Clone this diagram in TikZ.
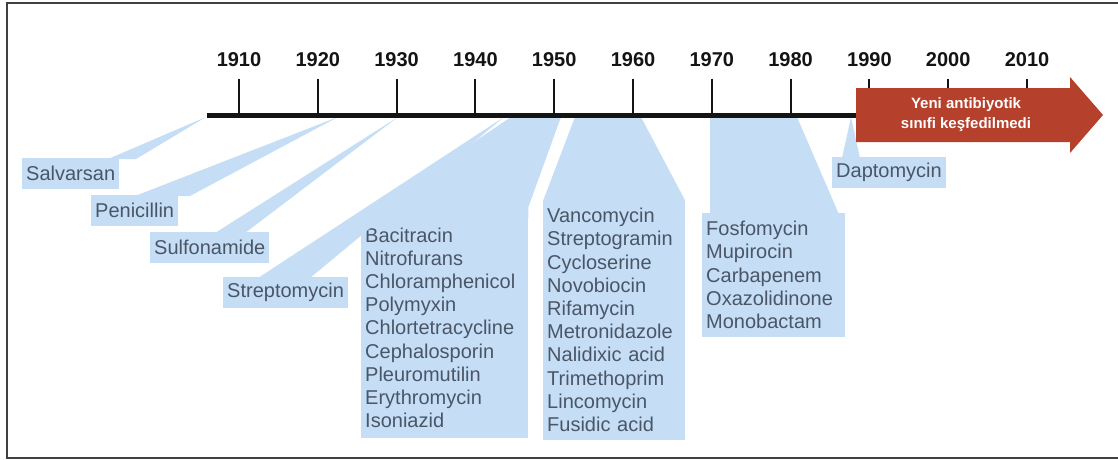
\documentclass[tikz,border=0pt]{standalone}
\usepackage{fontspec}
\setmainfont{Liberation Sans}
\definecolor{ink}{RGB}{20,20,20}
\definecolor{sky}{RGB}{197,222,246}
\definecolor{slate}{RGB}{74,86,102}
\definecolor{brick}{RGB}{181,64,44}

\begin{document}
\begin{tikzpicture}[x=1pt,y=-1pt,year/.style={font=\fontsize{20}{24}\selectfont\bfseries,text=ink},tick/.style={line width=2pt,draw=ink},drug/.style={fill=sky,text=slate,font=\fontsize{20}{23.2}\selectfont,anchor=north west,inner xsep=4pt,inner ysep=3pt,minimum height=31pt},druglist/.style={drug,align=left,inner ysep=8pt},wedge/.style={fill=sky}]
\useasboundingbox (0,0) rectangle (1118,460);
\draw[line width=2pt,black!75] (1125,3) -| (7,458) -- (1125,458);
% axis ends and callout tips
\coordinate (ax0) at (207,115); \coordinate (ax1) at (858,115);
\coordinate (tsalv) at (206,117); \coordinate (tpeni) at (338,117); \coordinate (tsulf) at (398,117); \coordinate (tstrep) at (504,117);
\coordinate (tbacL) at (511,117); \coordinate (tbacR) at (561,117); \coordinate (tvanL) at (575,117); \coordinate (tvanR) at (641,117);
\coordinate (tfosL) at (710,117); \coordinate (tfosR) at (797,117); \coordinate (tdap) at (851,117);
% drug boxes
\node[drug] (salv) at (22,158) {Salvarsan};
\node[drug] (peni) at (91,195) {Penicillin};
\node[drug] (sulf) at (150,232) {Sulfonamide};
\node[drug] (strep) at (223,277) {Streptomycin};
\node[druglist,text width=159pt,minimum height=221pt] (bac) at (361,217) {Bacitracin\\Nitrofurans\\Chloramphenicol\\Polymyxin\\Chlortetracycline\\Cephalosporin\\Pleuromutilin\\Erythromycin\\Isoniazid};
\node[druglist,text width=134pt] (van) at (543,200) {Vancomycin\\Streptogramin\\Cycloserine\\Novobiocin\\Rifamycin\\Metronidazole\\Nalidixic acid\\Trimethoprim\\Lincomycin\\Fusidic acid};
\node[druglist,text width=135pt] (fos) at (702,213) {Fosfomycin\\Mupirocin\\Carbapenem\\Oxazolidinone\\Monobactam};
\node[drug] (dapt) at (832,157) {Daptomycin};
% callouts
\fill[wedge] (tsalv) -- ([xshift=114pt,yshift=-1pt]salv.north west) -- ([xshift=86pt,yshift=-1pt]salv.north west) -- cycle;
\fill[wedge] (tpeni) -- ([xshift=99pt,yshift=-1pt]peni.north west) -- ([xshift=44pt,yshift=-1pt]peni.north west) -- cycle;
\fill[wedge] (tsulf) -- ([xshift=95pt,yshift=-1pt]sulf.north west) -- ([xshift=65pt,yshift=-1pt]sulf.north west) -- cycle;
\fill[wedge] (tstrep) -- ([xshift=87pt,yshift=-1pt]strep.north west) -- ([xshift=35pt,yshift=-1pt]strep.north west) -- cycle;
\fill[wedge] ([yshift=-1pt]bac.north west) -- (tbacL) -- (tbacR) -- ([yshift=10pt]bac.north east) -- ([yshift=-1pt]bac.north east) -- cycle;
\fill[wedge] ([yshift=-1pt]van.north west) -- (tvanL) -- (tvanR) -- ([yshift=-1pt]van.north east) -- cycle;
\fill[wedge] ([yshift=-1pt]fos.north west) -- ([xshift=8pt]fos.north west) -- (tfosL) -- (tfosR) -- ([xshift=-7pt]fos.north east) -- ([yshift=-1pt]fos.north east) -- cycle;
\fill[wedge] (tdap) -- ([xshift=10pt,yshift=-1pt]dapt.north west) -- ([xshift=28pt,yshift=-1pt]dapt.north west) -- cycle;
% years and ticks
\foreach \yr [count=\i from 0] in {1910,1920,...,2010}{
  \node[year] (y\yr) at ({239+78.8*\i},60) {\yr};
  \draw[tick] ([yshift=-8pt]y\yr.south) -- (y\yr |- ax0);
}
\draw[line width=5pt,ink] (ax0) -- (ax1);
% no new class
\fill[brick] (856,88) -- (1070,88) -- (1070,77) -- (1103,115) -- (1070,153) -- (1070,142) -- (856,142) -- cycle;
\node[font=\fontsize{15}{20}\selectfont\bfseries,text=white,align=center] (none) at (966,115) {Yeni antibiyotik\\sınıfi keşfedilmedi};
\end{tikzpicture}
\end{document}
